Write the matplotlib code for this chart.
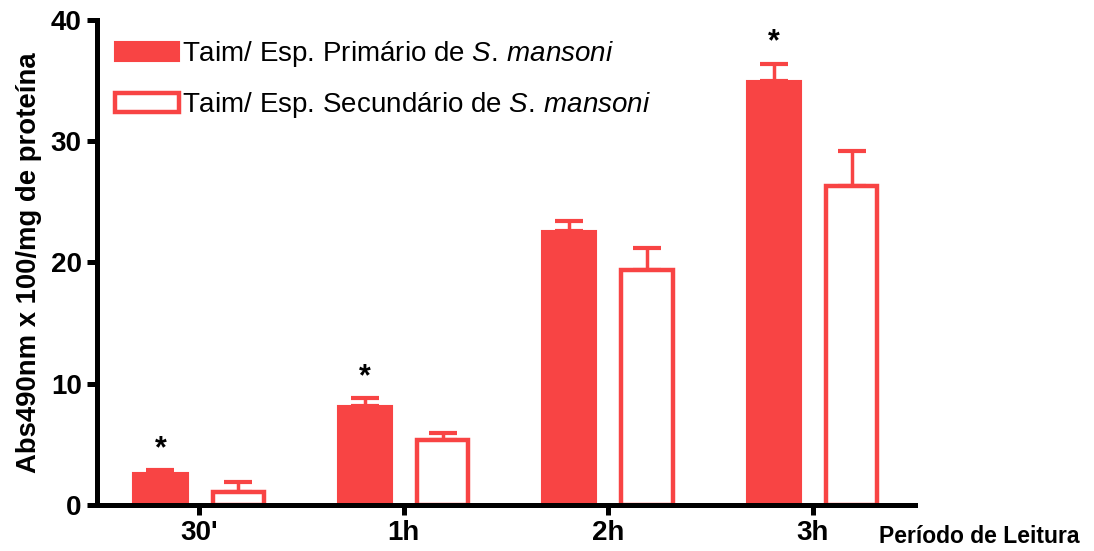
import matplotlib.pyplot as plt
import numpy as np

plt.rcParams['font.family'] = 'Liberation Sans'
plt.rcParams['mathtext.fontset'] = 'custom'
plt.rcParams['mathtext.it'] = 'Liberation Sans:italic'
plt.rcParams['mathtext.rm'] = 'Liberation Sans'

periodos = ["30'", '1h', '2h', '3h']
primario = [2.6, 8.2, 22.6, 35.0]
primario_erro = [0.25, 0.6, 0.8, 1.4]
secundario = [1.05, 5.35, 19.4, 26.3]
secundario_erro = [0.85, 0.6, 1.8, 2.9]
significativo = [True, True, False, True]

vermelho = '#F84444'

fig = plt.figure(figsize=(10.94, 5.51), dpi=100)
ax = fig.add_axes([0.0887, 0.0835, 0.7476, 0.8802])

x = np.arange(len(periodos))
w = 0.265
d = 0.19

ax.bar(x - d, primario, w, color=vermelho, edgecolor=vermelho, linewidth=1.5,
       label=r'Taim/ Esp. Primário de $\mathit{S.\,mansoni}$', zorder=2)
ax.bar(x + d, secundario, w - 0.015, color='white', edgecolor=vermelho, linewidth=3.2,
       label=r'Taim/ Esp. Secundário de $\mathit{S.\,mansoni}$', zorder=2)

zeros = np.zeros(len(periodos))
ax.errorbar(x - d, primario, yerr=[zeros, primario_erro], fmt='none',
            ecolor=vermelho, elinewidth=2.5, capsize=10, capthick=3, zorder=1)
ax.errorbar(x + d, secundario, yerr=[zeros, secundario_erro], fmt='none',
            ecolor=vermelho, elinewidth=2.5, capsize=10, capthick=3, zorder=1)

# asterisco acima das barras com diferença significativa
for xi, v, e, s in zip(x, primario, primario_erro, significativo):
    if s:
        ax.text(xi - d, v + e + 0.5, '*', ha='center', va='bottom',
                fontsize=22, fontweight='bold')

ax.set_xlim(-0.5, 3.5)
ax.set_ylim(0, 40)
ax.set_xticks(x)
ax.set_xticklabels(periodos, fontsize=20, fontweight='bold')
ax.set_yticks([0, 10, 20, 30, 40])
ax.set_yticklabels(['0', '10', '20', '30', '40'], fontsize=20, fontweight='bold')
ax.tick_params(axis='both', width=3.6, length=7, pad=4)

for s in ['top', 'right']:
    ax.spines[s].set_visible(False)
for s in ['left', 'bottom']:
    ax.spines[s].set_linewidth(3.6)

ax.set_ylabel('Abs490nm x 100/mg de proteína', fontsize=19.8, fontweight='bold', labelpad=6)
fig.text(0.987, 0.005, 'Período de Leitura', ha='right', va='bottom',
         fontsize=16.5, fontweight='bold')

ax.legend(loc='upper left', bbox_to_anchor=(-0.008, 1.012), frameon=False,
          fontsize=20, handlelength=2.3, handleheight=0.65, handletextpad=0.1,
          labelspacing=0.75, borderaxespad=0.5)

fig.savefig('out.png', dpi=100)
